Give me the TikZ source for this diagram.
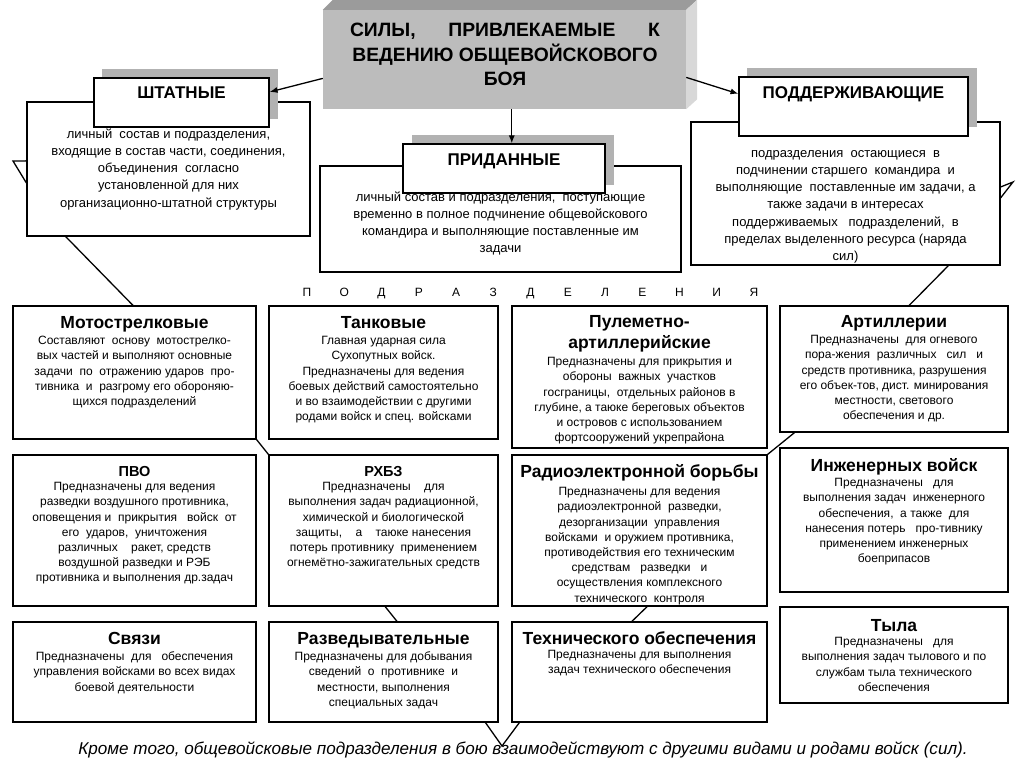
\documentclass[tikz,border=0pt]{standalone}
\usepackage{fontspec}
\setmainfont{Liberation Sans}
\usetikzlibrary{fit,calc,arrows.meta}
\definecolor{shadowgray}{RGB}{178,178,178}
\definecolor{titlefront}{RGB}{188,188,188}
\definecolor{titletop}{RGB}{155,155,155}
\definecolor{titleside}{RGB}{216,216,216}
\tikzset{
 bx/.style={draw=black, line width=1.1pt, fill=white, inner sep=0pt},
 shd/.style={fill=shadowgray, draw=none, inner sep=0pt},
 hdr/.style={font=\fontsize{17}{20}\selectfont\bfseries, inner sep=0pt, anchor=base},
 gttl/.style={font=\fontsize{17.5}{21}\selectfont\bfseries, inner sep=0pt, anchor=base},
 sttl/.style={font=\fontsize{14.5}{18}\selectfont\bfseries, inner sep=0pt, anchor=base},
 gbody/.style={font=\fontsize{12}{15.2}\selectfont, align=center, inner sep=0pt, anchor=north},
 ubody/.style={font=\fontsize{13}{17.2}\selectfont, align=center, inner sep=0pt, anchor=north},
 spaced/.style={font=\fontsize{12}{14}\selectfont, inner sep=0pt, anchor=base},
 conn/.style={line width=1.3pt},
 arr/.style={line width=1.3pt, -{Latex[length=8pt,width=6pt]}},
}
\newcommand\rb[6][bx]{\node[#1, fit={(#3,#4)(#5,#6)}] (#2) {};}
\begin{document}
\begin{tikzpicture}[x=1pt,y=-1pt]
\useasboundingbox[fill=white] (0,0) rectangle (1024,767);

% ---------- title (3D block) ----------
\node[fill=titlefront, inner sep=0pt, fit={(323,10)(686,109)}] (title) {};
\fill[titletop] (title.north west) -- ++(10,-10) -- ($(title.north east)+(11,-10)$) -- (title.north east) -- cycle;
\fill[titleside] (title.north east) -- ++(11,-10) -- ($(title.south east)+(11,-10)$) -- (title.south east) -- cycle;
\node[font=\fontsize{19.3}{23.5}\selectfont\bfseries, align=center, inner sep=0pt, anchor=north] (title-t) at (505,19.5)
 {\strut\makebox[310pt][s]{СИЛЫ, ПРИВЛЕКАЕМЫЕ К}\\ВЕДЕНИЮ ОБЩЕВОЙСКОВОГО\\БОЯ};

% ---------- ШТАТНЫЕ ----------
\rb{sd}{27}{102}{310}{236}
\node[ubody] (sd-t) at (168.5,126) {\strut личный\ \ состав и подразделения,\\входящие в состав части, соединения,\\объединения\ \ согласно\\установленной для них\\организационно-штатной структуры};
\rb[shd]{sht-s}{102}{69}{278}{119}
\rb{sht}{94}{78}{269}{127}
\node[hdr] (sht-t) at (181.5,99) {ШТАТНЫЕ};

% ---------- ПРИДАННЫЕ ----------
\rb{prd}{320}{166}{681}{272}
\node[ubody] (prd-t) at (500.5,189) {\strut личный состав и подразделения,\ \ поступающие\\временно в полное подчинение общевойскового\\командира и выполняющие поставленные им\\задачи};
\rb[shd]{pr-s}{412}{135}{614}{185}
\rb{pr}{403}{144}{605}{193}
\node[hdr] (pr-t) at (504,166) {ПРИДАННЫЕ};

% ---------- ПОДДЕРЖИВАЮЩИЕ ----------
\rb{ps}{691}{122}{1000}{265}
\node[ubody] (ps-t) at (845.5,145) {\strut подразделения\ \ остающиеся\ \ в\\подчинении старшего\ \ командира\ \ и\\выполняющие\ \ поставленные им задачи, а\\также задачи в интересах\\поддерживаемых\ \ \ подразделений,\ \ в\\пределах выделенного ресурса (наряда\\сил)};
\rb[shd]{pd-s}{747}{68}{977}{127}
\rb{pd}{739}{77}{968}{136}
\node[hdr] (pd-t) at (853.5,99) {ПОДДЕРЖИВАЮЩИЕ};

% ---------- arrows from title ----------
\draw[arr] ($(title.north west)!0.69!(title.south west)$) -- ($(sht.north east)!0.29!(sht.south east)$);
\coordinate (a2) at ($(title.south west)!0.52!(title.south east)$);
\draw[arr] (a2) -- (a2 |- pr.north);
\draw[arr] ($(title.north east)!0.68!(title.south east)$) -- ($(pd.north west)!0.29!(pd.south west)$);

% ---------- spaced word ----------
\foreach \l [count=\i from 0] in {П,О,Д,Р,А,З,Д,Е,Л,Е,Н,И,Я}
  \node[spaced] (p\i) at (307+37.25*\i,296) {\l};

% ---------- row 1 ----------
\rb{mt}{13}{306}{256}{439}
\node[gttl] (mt-h) at (134.5,328) {Мотострелковые};
\node[gbody] (mt-t) at (134.5,333.9) {\strut Составляют\ \ основу\ \ мотострелко-\\вых частей и выполняют основные\\задачи\ \ по\ \ отражению ударов\ \ про-\\тивника\ \ и\ \ разгрому его обороняю-\\щихся подразделений};

\rb{tk}{269}{306}{498}{439}
\node[gttl] (tk-h) at (383.5,328) {Танковые};
\node[gbody] (tk-t) at (383.5,333.9) {\strut Главная ударная сила\\Сухопутных войск.\\Предназначены для ведения\\боевых действий самостоятельно\\и во взаимодействии с другими\\родами войск и спец. войсками};

\rb{pu}{512}{306}{767}{448}
\node[gttl, align=center, anchor=north] (pu-h) at (639.5,312.3) {\strut Пулеметно-\\артиллерийские};
\node[gbody] (pu-t) at (639.5,354.9) {\strut Предназначены для прикрытия и\\обороны\ \ важных\ \ участков\\госграницы,\ \ отдельных районов в\\глубине, а таюке береговых объектов\\и островов с использованием\\фортсооружений укрепрайона};

\rb{ar}{780}{306}{1008}{432}
\node[gttl] (ar-h) at (894,327) {Артиллерии};
\node[gbody] (ar-t) at (894,332.9) {\strut Предназначены\ \ для огневого\\пора-жения\ \ различных\ \ \ сил\ \ \ и\\средств противника, разрушения\\его объек-тов, дист. минирования\\местности, светового\\обеспечения и др.};

% ---------- row 2 ----------
\rb{pv}{13}{455}{256}{606}
\node[sttl] (pv-h) at (134.5,476) {ПВО};
\node[gbody] (pv-t) at (134.5,479.9) {\strut Предназначены для ведения\\разведки воздушного противника,\\оповещения и\ \ прикрытия\ \ \ войск\ \ от\\его\ \ ударов,\ \ уничтожения\\различных\ \ \ \ ракет, средств\\воздушной разведки и РЭБ\\противника и выполнения др.задач};

\rb{rx}{269}{455}{498}{606}
\node[sttl] (rx-h) at (383.5,476) {РХБЗ};
\node[gbody] (rx-t) at (383.5,479.9) {\strut Предназначены\ \ \ \ для\\выполнения задач радиационной,\\химической и биологической\\защиты,\ \ \ \ а\ \ \ \ таюке нанесения\\потерь противнику\ \ применением\\огнемётно-зажигательных средств};

\rb{re}{512}{455}{767}{606}
\node[gttl] (re-h) at (639.5,477) {Радиоэлектронной борьбы};
\node[gbody] (re-t) at (639.5,484.9) {\strut Предназначены для ведения\\радиоэлектронной\ \ разведки,\\дезорганизации\ \ управления\\войсками\ \ и оружием противника,\\противодействия его техническим\\средствам\ \ \ разведки\ \ \ и\\осуществления комплексного\\технического\ \ контроля};

\rb{in}{780}{448}{1008}{592}
\node[gttl] (in-h) at (894,471) {Инженерных войск};
\node[gbody] (in-t) at (894,475.9) {\strut Предназначены\ \ \ для\\выполнения задач\ \ инженерного\\обеспечения,\ \ а также\ \ для\\нанесения потерь\ \ \ про-тивнику\\применением инженерных\\боеприпасов};

% ---------- row 3 ----------
\rb{sv}{13}{622}{256}{722}
\node[gttl] (sv-h) at (134.5,644) {Связи};
\node[gbody] (sv-t) at (134.5,649.9) {\strut Предназначены\ \ для\ \ \ обеспечения\\управления войсками во всех видах\\боевой деятельности};

\rb{rz}{269}{622}{498}{722}
\node[gttl] (rz-h) at (383.5,644) {Разведывательные};
\node[gbody] (rz-t) at (383.5,649.9) {\strut Предназначены для добывания\\сведений\ \ о\ \ противнике\ \ и\\местности, выполнения\\специальных задач};

\rb{te}{512}{622}{767}{722}
\node[gttl] (te-h) at (639.5,644) {Технического обеспечения};
\node[gbody] (te-t) at (639.5,647.9) {\strut Предназначены для выполнения\\задач технического обеспечения};

\rb{ty}{780}{607}{1008}{703}
\node[gttl] (ty-h) at (894,631) {Тыла};
\node[gbody] (ty-t) at (894,634.9) {\strut Предназначены\ \ \ для\\выполнения задач тылового и по\\службам тыла технического\\обеспечения};

% ---------- connectors ----------
\coordinate (tl) at (13,161);
\draw[conn] ($(sd.north west)!0.44!(sd.south west)$) -- (tl) -- ($(sd.north west)!0.604!(sd.south west)$);
\draw[conn] ($(sd.south west)!0.138!(sd.south east)$) -- ($(mt.north west)!0.494!(mt.north east)$);
\draw[conn, shorten <=-2pt, shorten >=-2pt] (mt.south east) -- (rx.north west);
\draw[conn] ($(rx.south west)!0.507!(rx.south east)$) -- ($(rz.north west)!0.559!(rz.north east)$);
\coordinate (vb) at (502,746);
\draw[conn] ($(rz.south west)!0.943!(rz.south east)$) -- (vb) -- ($(te.south west)!0.031!(te.south east)$);
\draw[conn] ($(te.north west)!0.47!(te.north east)$) -- ($(re.south west)!0.53!(re.south east)$);
\draw[conn] (re.north east) -- ($(ar.south west)!0.066!(ar.south east)$);
\draw[conn] ($(ar.north west)!0.566!(ar.north east)$) -- ($(ps.south west)!0.832!(ps.south east)$);
\coordinate (tr) at (1013,182);
\draw[conn] ($(ps.north east)!0.455!(ps.south east)$) -- (tr) -- ($(ps.north east)!0.531!(ps.south east)$);

% ---------- footer ----------
\node[font=\fontsize{17.1}{20}\selectfont\itshape, inner sep=0pt, anchor=base] (foot) at (523,754)
 {Кроме того, общевойсковые подразделения в бою взаимодействуют с другими видами и родами войск (сил).};
\end{tikzpicture}
\end{document}
